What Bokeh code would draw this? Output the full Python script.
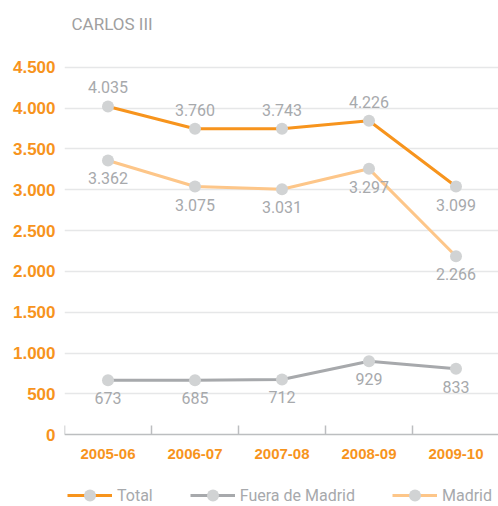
from bokeh.plotting import figure
from bokeh.models import Range1d, FixedTicker, Legend, LegendItem
from bokeh.core.properties import value
from bokeh.embed import file_html
from bokeh.resources import INLINE

# ---------------- data ----------------
title_text = "CARLOS III"
categories = ["2005-06", "2006-07", "2007-08", "2008-09", "2009-10"]

total_values = [4019, 3746, 3746, 3844, 3039]
total_labels = ["4.035", "3.760", "3.743", "4.226", "3.099"]
total_side = ["above", "above", "above", "above", "below"]

fuera_values = [668, 668, 677, 901, 808]
fuera_labels = ["673", "685", "712", "929", "833"]
fuera_side = ["below", "below", "below", "below", "below"]

madrid_values = [3358, 3039, 3006, 3256, 2186]
madrid_labels = ["3.362", "3.075", "3.031", "3.297", "2.266"]
madrid_side = ["below", "below", "below", "below", "below"]

y_ticks = [0, 500, 1000, 1500, 2000, 2500, 3000, 3500, 4000, 4500]
y_tick_labels = ["0", "500", "1.000", "1.500", "2.000", "2.500",
                 "3.000", "3.500", "4.000", "4.500"]

# ---------------- styles ----------------
ORANGE = "#f7941d"
LIGHT_ORANGE = "#fdc689"
GRAY_LINE = "#a7a9ac"
MARKER = "#d1d3d4"
TEXT_GRAY = "#a7a9ac"
FONT = "Roboto"

x_centers = [i + 0.5 for i in range(len(categories))]
x_bounds = list(range(len(categories) + 1))

p = figure(width=498, height=506,
           x_range=Range1d(0, 434 / 87), y_range=Range1d(-878, 4827),
           output_backend="svg", toolbar_location=None,
           min_border_left=64, min_border_right=0,
           min_border_top=40, min_border_bottom=0)
p.outline_line_color = None
p.background_fill_color = "white"

# title
p.title.text = title_text
p.title.align = "left"
p.title.offset = 7
p.title.standoff = 14
p.title.text_font = FONT
p.title.text_font_size = "17px"
p.title.text_font_style = "normal"
p.title.text_color = "#a0a0a0"

# grid
p.xgrid.visible = False
p.ygrid.ticker = FixedTicker(ticks=y_ticks[1:])
p.ygrid.grid_line_color = "#e6e7e8"
p.ygrid.grid_line_width = 1.5

# y axis
yax = p.yaxis[0]
yax.ticker = FixedTicker(ticks=y_ticks)
yax.major_label_overrides = dict(zip(y_ticks, y_tick_labels))
yax.axis_line_color = None
yax.major_tick_line_color = None
yax.minor_tick_line_color = None
yax.major_tick_in = 0
yax.major_tick_out = 0
yax.minor_tick_in = 0
yax.minor_tick_out = 0
yax.major_label_standoff = 9
yax.major_label_text_font = "Liberation Sans"
yax.major_label_text_font_style = "bold"
yax.major_label_text_font_size = "17px"
yax.major_label_text_color = ORANGE

# x axis: line and category-boundary ticks drawn at y = 0
xax = p.xaxis[0]
xax.fixed_location = 0
xax.ticker = FixedTicker(ticks=[], minor_ticks=x_bounds)
xax.major_tick_in = 0
xax.major_tick_out = 0
xax.major_tick_line_color = None
xax.minor_tick_in = 9
xax.minor_tick_out = 0
xax.minor_tick_line_color = "#bcbec0"
xax.minor_tick_line_width = 1.5
xax.axis_line_color = "#bcbec0"
xax.axis_line_width = 1.5
xax.major_label_standoff = 0

# category labels under the axis
p.text(x=x_centers, y=[0] * len(categories), text=categories, y_offset=19,
       text_align="center", text_baseline="middle", text_color=ORANGE,
       text_font=value("Liberation Sans"), text_font_style="bold",
       text_font_size="15px")

series = [
    ("Total", total_values, total_labels, total_side, ORANGE),
    ("Fuera de Madrid", fuera_values, fuera_labels, fuera_side, GRAY_LINE),
    ("Madrid", madrid_values, madrid_labels, madrid_side, LIGHT_ORANGE),
]

lines = []
for name, vals, labs, side, col in series:
    lines.append(p.line(x_centers, vals, line_color=col, line_width=3))

scatters = []
for name, vals, labs, side, col in series:
    scatters.append(p.scatter(x_centers, vals, size=12,
                              fill_color=MARKER, line_color=None))

for name, vals, labs, side, col in series:
    offs = [-19 if s == "above" else 18 for s in side]
    p.text(x=x_centers, y=vals, text=labs, y_offset=offs,
           text_align="center", text_baseline="middle",
           text_color=TEXT_GRAY, text_font=value(FONT),
           text_font_size="16px")

items = [LegendItem(label=s[0], renderers=[lr, sr])
         for s, lr, sr in zip(series, lines, scatters)]
legend = Legend(items=items, location=(3, -4), orientation="horizontal",
                border_line_color=None, background_fill_alpha=0,
                padding=0, margin=0, spacing=37,
                glyph_width=45, glyph_height=30, label_height=30,
                label_standoff=5, label_text_font=FONT,
                label_text_font_size="16px", label_text_color=TEXT_GRAY)
p.add_layout(legend)

open("out.html", "w").write(file_html(p, INLINE))
